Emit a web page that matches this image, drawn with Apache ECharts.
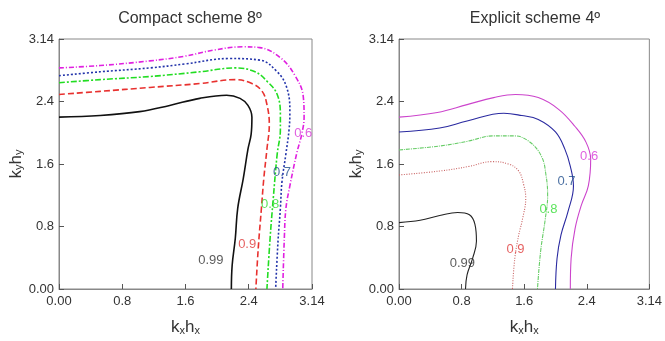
<!DOCTYPE html>
<html>
<head>
<meta charset="utf-8">
<script src="https://cdn.jsdelivr.net/npm/echarts@6/dist/echarts.min.js"></script>
<style>
  html, body { margin: 0; padding: 0; background: #fff; }
  #chart { width: 665px; height: 341px; }
</style>
</head>
<body>
<div id="chart"></div>
<script>
// contour levels as [kx*hx, ky*hy] pairs
const levels = ["0.99", "0.9", "0.8", "0.7", "0.6"];

// Compact scheme 8th order
const compact099 = [[0, 2.20], [0.52, 2.22], [1.02, 2.27], [1.40, 2.35], [1.78, 2.44], [2.12, 2.48], [2.29, 2.44], [2.39, 2.35], [2.44, 2.20], [2.43, 1.98], [2.39, 1.79], [2.33, 1.41], [2.26, 1.03], [2.23, 0.65], [2.19, 0.30], [2.18, 0]];
const compact09 = [[0, 2.49], [0.52, 2.53], [1.15, 2.58], [1.78, 2.63], [2.23, 2.68], [2.44, 2.63], [2.57, 2.53], [2.63, 2.36], [2.66, 2.11], [2.63, 1.79], [2.59, 1.41], [2.56, 1.03], [2.52, 0.52], [2.49, 0]];
const compact08 = [[0, 2.64], [0.52, 2.68], [1.15, 2.72], [1.78, 2.78], [2.23, 2.83], [2.48, 2.78], [2.64, 2.65], [2.76, 2.49], [2.80, 2.23], [2.80, 2.04], [2.76, 1.73], [2.71, 1.16], [2.67, 0.65], [2.63, 0]];
const compact07 = [[0, 2.73], [0.52, 2.78], [1.15, 2.83], [1.59, 2.88], [2.16, 2.95], [2.54, 2.93], [2.76, 2.78], [2.88, 2.58], [2.92, 2.27], [2.91, 2.04], [2.87, 1.73], [2.82, 1.37], [2.80, 1.03], [2.77, 0.61], [2.74, 0]];
const compact06 = [[0, 2.83], [0.52, 2.86], [1.15, 2.92], [1.59, 2.98], [1.97, 3.06], [2.33, 3.10], [2.54, 3.09], [2.80, 2.96], [2.98, 2.74], [3.09, 2.46], [3.10, 2.20], [3.07, 1.98], [3.01, 1.75], [2.92, 1.32], [2.87, 1.03], [2.85, 0.65], [2.83, 0]];
const compactLabelPos = [[1.92, 0.37], [2.38, 0.57], [2.67, 1.08], [2.82, 1.49], [3.09, 1.99]];

// Explicit scheme 4th order
const explicit099 = [[0, 0.85], [0.27, 0.88], [0.52, 0.94], [0.75, 0.98], [0.90, 0.95], [0.97, 0.83], [0.99, 0.61], [0.94, 0.39], [0.87, 0.18], [0.85, 0]];
const explicit09 = [[0, 1.46], [0.52, 1.51], [0.90, 1.57], [1.18, 1.63], [1.40, 1.60], [1.53, 1.51], [1.59, 1.35], [1.62, 1.16], [1.58, 0.90], [1.53, 0.69], [1.48, 0.39], [1.45, 0]];
const explicit08 = [[0, 1.78], [0.52, 1.83], [0.87, 1.89], [1.21, 1.96], [1.47, 1.96], [1.66, 1.89], [1.82, 1.70], [1.88, 1.45], [1.90, 1.19], [1.87, 0.90], [1.81, 0.48], [1.77, 0]];
const explicit07 = [[0, 2.01], [0.52, 2.06], [0.87, 2.15], [1.34, 2.25], [1.57, 2.22], [1.78, 2.17], [2.00, 2.01], [2.12, 1.79], [2.19, 1.57], [2.23, 1.32], [2.16, 0.99], [2.07, 0.69], [2.02, 0.39], [2.00, 0]];
const explicit06 = [[0, 2.20], [0.49, 2.26], [0.87, 2.36], [1.21, 2.45], [1.49, 2.49], [1.78, 2.45], [2.04, 2.30], [2.25, 2.08], [2.39, 1.88], [2.45, 1.66], [2.42, 1.32], [2.33, 1.07], [2.25, 0.77], [2.20, 0.39], [2.19, 0]];
const explicitLabelPos = [[0.81, 0.33], [1.49, 0.51], [1.91, 1.02], [2.14, 1.38], [2.43, 1.70]];

const tickLabels = { 0: "0.00", 0.8: "0.8", 1.6: "1.6", 2.4: "2.4", 3.2: "3.14" };

const colors = ["#111111", "#e8312f", "#22dd22", "#2233aa", "#e020e0"];
const labelColors = ["#333333", "#e03a3a", "#33dd33", "#1f4e8c", "#d838d8"];
const compactTypes = ["solid", [6, 3], [6, 2, 2, 2], [2, 2], [5, 2, 1, 2]];
const explicitTypes = ["solid", [1, 1.5], [4, 1, 1, 1], "solid", "solid"];
const explicitColors = ["#222222", "#c86060", "#66cc66", "#2a2aa0", "#cc44cc"];

const font = "Liberation Sans";

function axisCommon(gridIndex) {
  return {
    gridIndex,
    type: "value",
    min: 0,
    max: 3.2,
    interval: 0.8,
    splitLine: { show: false },
    axisLine: { show: true, lineStyle: { color: "#888", width: 1 } },
    axisTick: { show: true, inside: true, length: 5, lineStyle: { color: "#555" } },
    axisLabel: {
      color: "#333", fontSize: 13, fontFamily: font,
      formatter: v => tickLabels[Math.round(v * 10) / 10]
    }
  };
}

const nameRich = {
  n: { fontSize: 17, fontFamily: font, color: "#333", lineHeight: 20, verticalAlign: "bottom" },
  s: { fontSize: 11, fontFamily: font, color: "#333", lineHeight: 12, verticalAlign: "bottom" }
};

const xAxes = [0, 1].map(i => Object.assign(axisCommon(i), {
  name: "{n|k}{s|x}{n|h}{s|x}",
  nameLocation: "middle",
  nameGap: 27,
  nameTextStyle: { rich: nameRich },
  axisLabel: Object.assign(axisCommon(i).axisLabel, { margin: 6 })
}));
const yAxes = [0, 1].map(i => Object.assign(axisCommon(i), {
  name: "{n|k}{s|y}{n|h}{s|y}",
  nameLocation: "middle",
  nameGap: 28,
  nameTextStyle: { rich: nameRich },
  axisLabel: Object.assign(axisCommon(i).axisLabel, { margin: 5 })
}));

function contourSeries(idx, data, color, type, width, name) {
  return {
    type: "line",
    name,
    xAxisIndex: idx,
    yAxisIndex: idx,
    data,
    smooth: 0.4,
    symbol: "none",
    silent: true,
    lineStyle: { color, width, type }
  };
}

function labelSeries(idx, pos) {
  return {
    type: "scatter",
    xAxisIndex: idx,
    yAxisIndex: idx,
    symbolSize: 0,
    silent: true,
    z: 5,
    data: pos.map((p, i) => ({
      value: p,
      label: {
        show: true, position: "inside", formatter: levels[i],
        color: labelColors[i], fontSize: 13, fontFamily: font
      }
    }))
  };
}

const compactData = [compact099, compact09, compact08, compact07, compact06];
const explicitData = [explicit099, explicit09, explicit08, explicit07, explicit06];

const series = [];
compactData.forEach((d, i) => series.push(contourSeries(0, d, colors[i], compactTypes[i], 1.6, levels[i])));
explicitData.forEach((d, i) => series.push(contourSeries(1, d, explicitColors[i], explicitTypes[i], 1.1, levels[i])));
series.push(labelSeries(0, compactLabelPos));
series.push(labelSeries(1, explicitLabelPos));

const chart = echarts.init(document.getElementById("chart"));
chart.setOption({
  animation: false,
  title: [
    { text: "Compact scheme 8\u00ba", left: 185, top: 6, textAlign: "center",
      textStyle: { fontSize: 16, fontWeight: "normal", color: "#333", fontFamily: font } },
    { text: "Explicit scheme 4\u00ba", left: 530, top: 6, textAlign: "center",
      textStyle: { fontSize: 16, fontWeight: "normal", color: "#333", fontFamily: font } }
  ],
  grid: [
    { left: 59, top: 39, width: 253, height: 252, show: true, borderColor: "#888", borderWidth: 1 },
    { left: 399, top: 39, width: 253, height: 252, show: true, borderColor: "#888", borderWidth: 1 }
  ],
  xAxis: xAxes,
  yAxis: yAxes,
  series
});
</script>
</body>
</html>
